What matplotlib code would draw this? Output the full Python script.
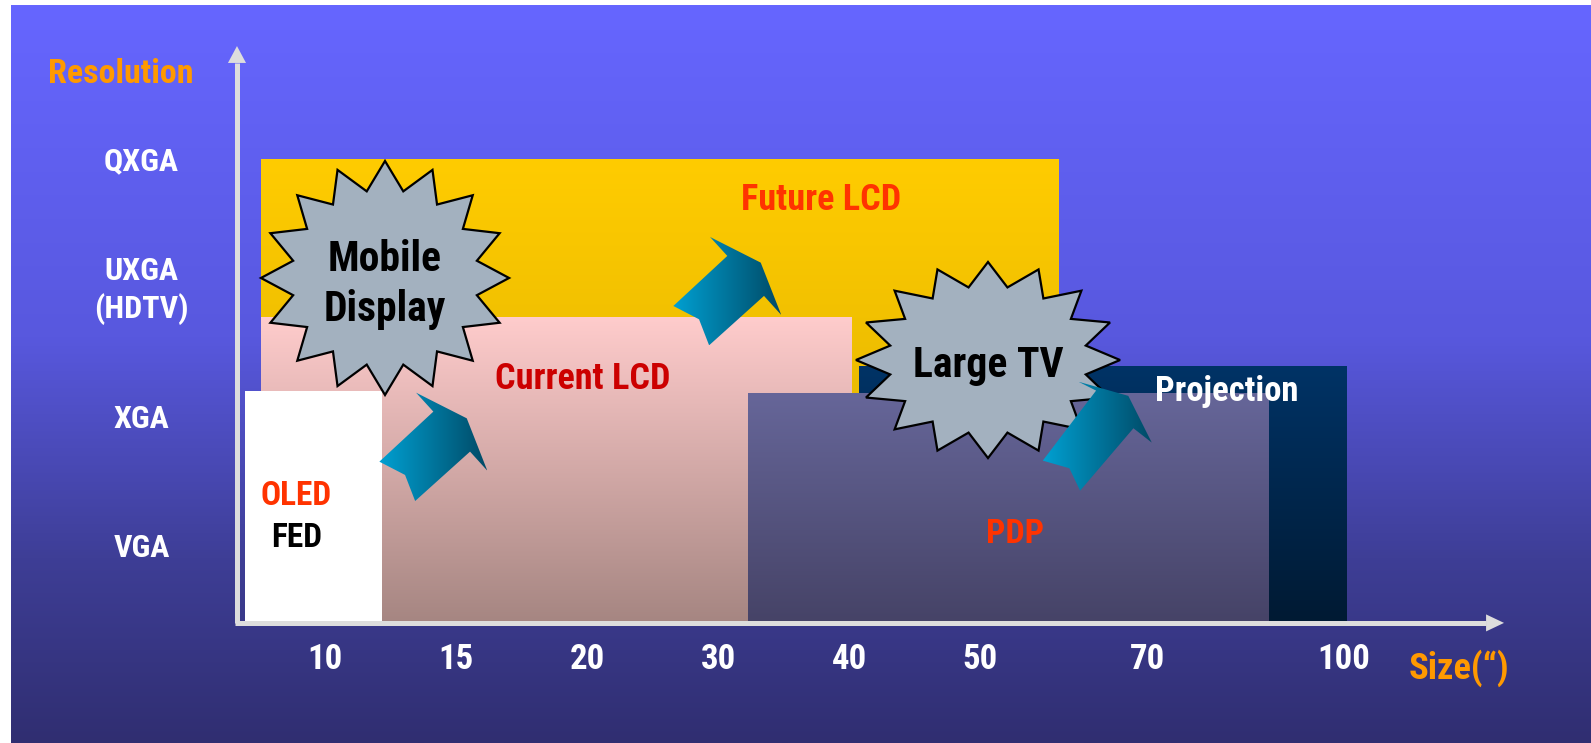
import numpy as np
import matplotlib
matplotlib.use("Agg")
import matplotlib.pyplot as plt
from matplotlib.colors import to_rgb
from matplotlib.patches import Polygon

plt.rcParams['font.family'] = ['Nimbus Sans Narrow', 'Liberation Sans Narrow', 'Arial Narrow',
                               'Roboto Condensed', 'Archivo Narrow', 'Liberation Sans', 'DejaVu Sans']
plt.rcParams['font.weight'] = 'bold'

# axis categories (x in "size slots", y in "resolution levels")
size_labels = ['10', '15', '20', '30', '40', '50', '70', '100']
size_slots = [0, 1, 2, 3, 4, 5, 6.28, 7.78]
res_labels = ['VGA', 'XGA', 'UXGA\n(HDTV)', 'QXGA']
res_levels = [0, 1, 2, 3]

# display technology regions
tech_names = ['Future LCD', 'Current LCD', 'Projection', 'PDP', 'OLED / FED']
tech_left = [-0.49, -0.49, 4.08, 3.23, -0.61]
tech_right = [5.60, 4.02, 7.80, 7.20, 0.43]
tech_top = [3.01, 1.78, 1.40, 1.19, 1.21]
tech_base = -0.57
tech_color_top = ['#FFCC00', '#FFCCCC', '#003366', '#666699', '#FFFFFF']
tech_color_bot = ['#D9AC00', '#A68682', '#001A33', '#464367', '#FFFFFF']

# labels written inside the regions
label_text = ['Future LCD', 'Current LCD', 'Projection', 'PDP', 'OLED', 'FED']
label_x = [3.79, 1.97, 6.88, 5.27, -0.22, -0.22]
label_y = [2.70, 1.31, 1.21, 0.11, 0.40, 0.08]
label_color = ['#FF3300', '#CC0000', 'white', '#FF3300', '#FF3300', 'black']
label_size = [26, 26, 25, 24.5, 24, 24]

# starbursts
burst_text = ['Mobile\nDisplay', 'Large TV']
burst_x = [0.458, 5.061]
burst_y = [2.093, 1.457]
burst_rx = [0.947, 1.008]
burst_ry = [0.907, 0.760]
burst_text_y = [2.045, 1.417]

# growth arrows (tail corner + shape)
arrow_x = [0.415, 2.659, 5.479]
arrow_y = [0.669, 1.876, 0.677]
arrow_kind = ['a', 'a', 'b']
arrow_shapes = {
    'a': [(0, 0), (0.412, 0.388), (0.280, 0.535), (0.667, 0.336),
          (0.824, -0.070), (0.692, 0.078), (0.273, -0.305), (0.196, -0.103)],
    'b': [(0, 0), (0.407, 0.543), (0.272, 0.612), (0.653, 0.502),
          (0.832, 0.140), (0.692, 0.251), (0.285, -0.233), (0.203, -0.059)],
}

axis_x0 = -0.672   # where the resolution axis sits
axis_y0 = -0.581   # where the size axis sits
AXIS_GREY = '#DDDDDD'
ORANGE = '#FF9900'


def grad_fill(ax, x0, x1, y0, y1, c_top, c_bot, z, horizontal=False, clip=None):
    t = np.linspace(0, 1, 256)[:, None]
    cols = np.array(to_rgb(c_top))[None, :] * (1 - t) + np.array(to_rgb(c_bot))[None, :] * t
    img = cols[None, :, :] if horizontal else cols[:, None, :]
    im = ax.imshow(img, extent=(x0, x1, y0, y1), origin='upper', aspect='auto',
                   interpolation='bilinear', zorder=z)
    if clip is not None:
        im.set_clip_path(clip)
    return im


def star_points(cx, cy, rx, ry, n=16, inner=0.755):
    pts = []
    for k in range(2 * n):
        a = np.pi / 2 + k * np.pi / n
        r = 1.0 if k % 2 == 0 else inner
        pts.append((cx + rx * r * np.cos(a), cy + ry * r * np.sin(a)))
    return pts


def lines_text(ax, x, y, s, gap, **kw):
    parts = s.split('\n')
    n = len(parts)
    for i, p in enumerate(parts):
        ax.text(x, y + (n - 1) / 2 * gap - i * gap, p, ha='center', va='center', **kw)


fig = plt.figure(figsize=(15.91, 7.43), dpi=100, facecolor='white')
ax = fig.add_axes([0, 0, 1, 1])
xlim = (-2.481, 9.664)
ylim = (-1.512, 4.248)

# slide background
t = np.linspace(0, 1, 400)
stops = [0, 0.45, 0.75, 1]
bg_r = np.interp(t, stops, [102, 88, 62, 48])
bg_g = np.interp(t, stops, [102, 88, 62, 46])
bg_b = np.interp(t, stops, [255, 222, 150, 113])
bg = np.stack([bg_r, bg_g, bg_b], axis=1)[:, None, :] / 255
ax.imshow(bg, extent=(-2.397, xlim[1], ylim[0], 4.202), origin='upper',
          aspect='auto', interpolation='bilinear', zorder=0)

# axes arrows
ax.plot([axis_x0, axis_x0], [axis_y0, 3.76], color=AXIS_GREY, lw=3.6,
        solid_capstyle='butt', zorder=0.5)
ax.fill([axis_x0 - 0.069, axis_x0 + 0.069, axis_x0], [3.76, 3.76, 3.891],
        color=AXIS_GREY, lw=0, zorder=0.5)
ax.plot([axis_x0 - 0.018, 8.863], [axis_y0, axis_y0], color=AXIS_GREY, lw=3.6,
        solid_capstyle='butt', zorder=0.5)
ax.fill([8.863, 8.863, 9.0], [axis_y0 - 0.066, axis_y0 + 0.066, axis_y0],
        color=AXIS_GREY, lw=0, zorder=0.5)

# technology regions
for i in range(len(tech_names)):
    grad_fill(ax, tech_left[i], tech_right[i], tech_base, tech_top[i],
              tech_color_top[i], tech_color_bot[i], z=1 + i)

# starbursts
for i in range(len(burst_text)):
    pts = star_points(burst_x[i], burst_y[i], burst_rx[i], burst_ry[i])
    ax.add_patch(Polygon(pts, closed=True, facecolor='#A3B1BF', edgecolor='black',
                         lw=1.6, joinstyle='miter', zorder=7))
    lines_text(ax, burst_x[i], burst_text_y[i], burst_text[i], 0.388,
               fontsize=30, color='black', zorder=10)

# arrows with cyan -> teal gradient
for i in range(len(arrow_x)):
    shape = np.array(arrow_shapes[arrow_kind[i]]) + [arrow_x[i], arrow_y[i]]
    poly = Polygon(shape, closed=True, facecolor='none', edgecolor='none',
                   transform=ax.transData)
    ax.add_patch(poly)
    grad_fill(ax, shape[:, 0].min(), shape[:, 0].max(), shape[:, 1].min(),
              shape[:, 1].max(), '#00A0D2', '#004A66', z=8, horizontal=True,
              clip=poly)

# region labels
for i in range(len(label_text)):
    ax.text(label_x[i], label_y[i], label_text[i], ha='center', va='center',
            fontsize=label_size[i], color=label_color[i], zorder=10)

# tick labels
for s, lab in zip(size_slots, size_labels):
    ax.text(s, -0.864, lab, ha='center', va='center', fontsize=25,
            color='white', zorder=10)
for lv, lab in zip(res_levels, res_labels):
    lines_text(ax, -1.40, lv, lab, 0.295, fontsize=23,
               color='white', zorder=10)

ax.text(-1.561, 3.673, 'Resolution', ha='center', va='center', fontsize=24.5,
        color=ORANGE, zorder=10)
ax.text(8.275, -0.936, 'Size(\u201c)', ha='left', va='center', fontsize=26.3,
        color=ORANGE, zorder=10)

ax.set_xlim(*xlim)
ax.set_ylim(*ylim)
ax.set_aspect('auto')
ax.axis('off')

fig.savefig('out.png', dpi=100, facecolor='white')
